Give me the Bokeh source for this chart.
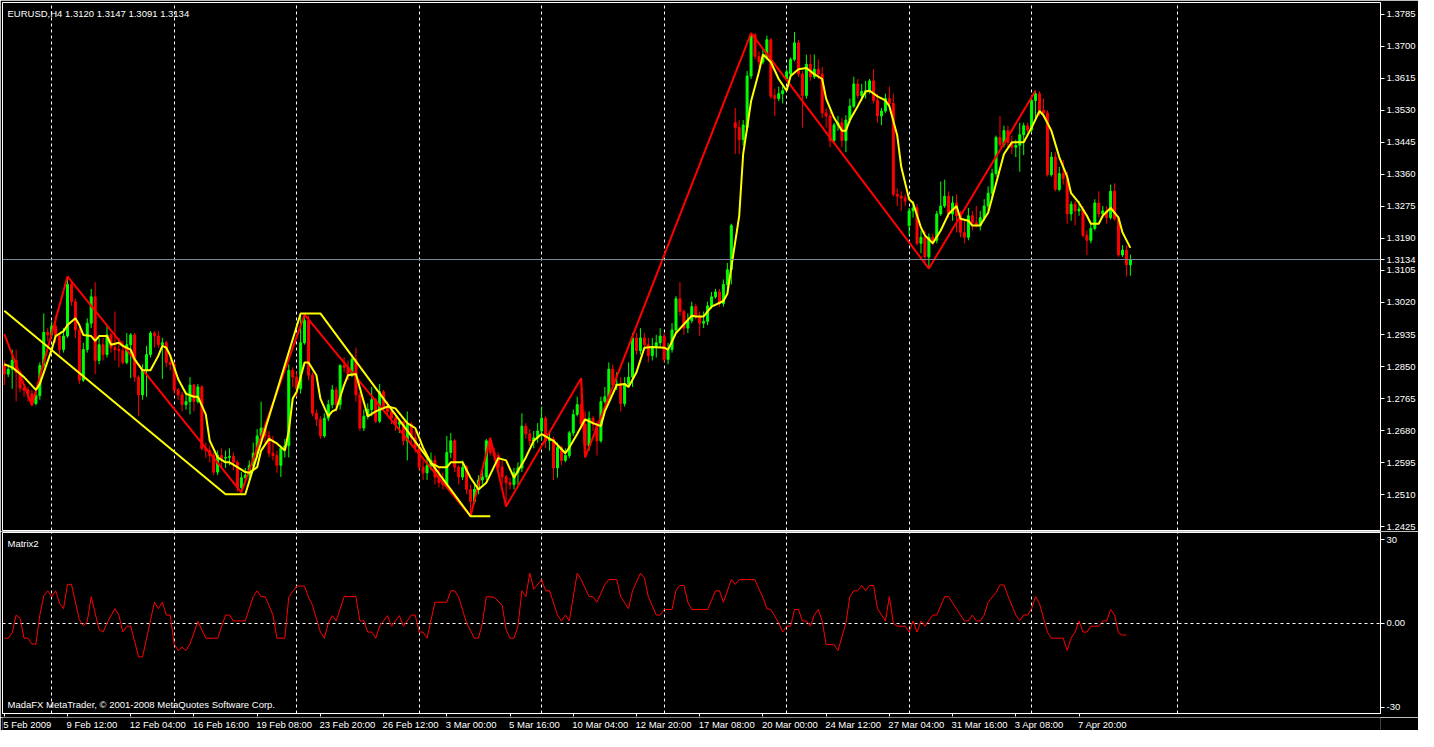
from bokeh.plotting import figure
from bokeh.layouts import column
from bokeh.models import (Range1d, FixedTicker, Label, ColumnDataSource, Span,
                          NumeralTickFormatter)
from bokeh.embed import file_html
from bokeh.resources import INLINE
from bokeh.core.properties import value

FONT = "Liberation Sans"

# ---------------- data (EURUSD H4) ----------------
opens = [
    1.2853, 1.2830, 1.2843, 1.2866, 1.2835, 1.2793, 1.2788, 1.2778, 1.2752, 1.2773,
    1.2853, 1.2941, 1.2934, 1.2957, 1.2931, 1.2895, 1.2931, 1.3068, 1.3022, 1.2947,
    1.2814, 1.2895, 1.2965, 1.3035, 1.2866, 1.2908, 1.2882, 1.2934, 1.2900, 1.2895,
    1.2892, 1.2861, 1.2908, 1.2934, 1.2822, 1.2775, 1.2840, 1.2882, 1.2939, 1.2931,
    1.2908, 1.2913, 1.2861, 1.2856, 1.2788, 1.2775, 1.2749, 1.2757, 1.2801, 1.2757,
    1.2796, 1.2633, 1.2627, 1.2614, 1.2570, 1.2614, 1.2607, 1.2609, 1.2612, 1.2596,
    1.2529, 1.2555, 1.2562, 1.2588, 1.2620, 1.2666, 1.2687, 1.2666, 1.2620, 1.2614,
    1.2588, 1.2633, 1.2640, 1.2840, 1.2822, 1.2791, 1.2913, 1.2972, 1.2827, 1.2726,
    1.2710, 1.2666, 1.2713, 1.2749, 1.2788, 1.2749, 1.2853, 1.2848, 1.2827, 1.2869,
    1.2775, 1.2687, 1.2718, 1.2736, 1.2762, 1.2705, 1.2783, 1.2744, 1.2731, 1.2713,
    1.2697, 1.2703, 1.2653, 1.2697, 1.2661, 1.2635, 1.2583, 1.2568, 1.2588, 1.2601,
    1.2557, 1.2542, 1.2537, 1.2622, 1.2653, 1.2583, 1.2557, 1.2583, 1.2524, 1.2492,
    1.2524, 1.2549, 1.2557, 1.2653, 1.2622, 1.2614, 1.2583, 1.2557, 1.2542, 1.2537,
    1.2568, 1.2581, 1.2692, 1.2671, 1.2653, 1.2661, 1.2679, 1.2713, 1.2653, 1.2658,
    1.2581, 1.2635, 1.2601, 1.2614, 1.2674, 1.2723, 1.2749, 1.2697, 1.2640, 1.2713,
    1.2697, 1.2653, 1.2757, 1.2770, 1.2843, 1.2801, 1.2804, 1.2752, 1.2804, 1.2822,
    1.2926, 1.2892, 1.2926, 1.2908, 1.2879, 1.2900, 1.2913, 1.2931, 1.2869, 1.2895,
    1.2947, 1.3030, 1.2996, 1.2952, 1.2972, 1.3009, 1.2983, 1.2965, 1.2970, 1.3011,
    1.3035, 1.3048, 1.3017, 1.3068, 1.3107, 1.3497, 1.3484, 1.3452, 1.3484, 1.3621,
    1.3730, 1.3673, 1.3658, 1.3670, 1.3717, 1.3569, 1.3561, 1.3574, 1.3613, 1.3626,
    1.3665, 1.3709, 1.3626, 1.3569, 1.3652, 1.3619, 1.3639, 1.3626, 1.3523, 1.3515,
    1.3450, 1.3491, 1.3497, 1.3450, 1.3504, 1.3541, 1.3600, 1.3569, 1.3580, 1.3582,
    1.3608, 1.3556, 1.3515, 1.3528, 1.3561, 1.3548, 1.3307, 1.3302, 1.3297, 1.3224,
    1.3263, 1.3271, 1.3177, 1.3193, 1.3141, 1.3193, 1.3185, 1.3255, 1.3276, 1.3302,
    1.3255, 1.3284, 1.3250, 1.3206, 1.3193, 1.3250, 1.3232, 1.3224, 1.3245, 1.3276,
    1.3310, 1.3362, 1.3458, 1.3439, 1.3476, 1.3445, 1.3432, 1.3437, 1.3465, 1.3489,
    1.3478, 1.3556, 1.3574, 1.3530, 1.3523, 1.3359, 1.3406, 1.3320, 1.3362, 1.3349,
    1.3255, 1.3281, 1.3263, 1.3268, 1.3198, 1.3185, 1.3216, 1.3284, 1.3255, 1.3263,
    1.3245, 1.3315, 1.3242, 1.3146, 1.3159, 1.3120,
]
highs = [
    1.2866, 1.2856, 1.2895, 1.2895, 1.2840, 1.2804, 1.2796, 1.2788, 1.2783, 1.2861,
    1.2991, 1.2952, 1.2970, 1.2985, 1.2939, 1.2952, 1.3089, 1.3074, 1.3030, 1.2952,
    1.2913, 1.2978, 1.3056, 1.3074, 1.2926, 1.2926, 1.2960, 1.2939, 1.2996, 1.2926,
    1.2918, 1.2939, 1.2939, 1.2939, 1.2827, 1.2856, 1.2905, 1.2944, 1.2944, 1.2944,
    1.2926, 1.2918, 1.2874, 1.2861, 1.2793, 1.2783, 1.2783, 1.2822, 1.2804, 1.2804,
    1.2801, 1.2648, 1.2640, 1.2622, 1.2627, 1.2633, 1.2627, 1.2633, 1.2622, 1.2601,
    1.2570, 1.2581, 1.2601, 1.2648, 1.2684, 1.2757, 1.2692, 1.2679, 1.2666, 1.2627,
    1.2640, 1.2658, 1.2856, 1.2848, 1.2835, 1.2985, 1.2988, 1.2985, 1.2835, 1.2736,
    1.2718, 1.2726, 1.2762, 1.2801, 1.2796, 1.2856, 1.2874, 1.2866, 1.2882, 1.2900,
    1.2783, 1.2736, 1.2752, 1.2796, 1.2767, 1.2804, 1.2788, 1.2757, 1.2744, 1.2718,
    1.2710, 1.2705, 1.2731, 1.2703, 1.2679, 1.2640, 1.2601, 1.2609, 1.2622, 1.2614,
    1.2581, 1.2568, 1.2666, 1.2674, 1.2658, 1.2588, 1.2601, 1.2588, 1.2537, 1.2544,
    1.2562, 1.2575, 1.2658, 1.2661, 1.2635, 1.2622, 1.2601, 1.2562, 1.2555, 1.2581,
    1.2596, 1.2726, 1.2700, 1.2684, 1.2679, 1.2700, 1.2744, 1.2718, 1.2679, 1.2664,
    1.2648, 1.2640, 1.2633, 1.2679, 1.2736, 1.2770, 1.2819, 1.2731, 1.2731, 1.2718,
    1.2705, 1.2770, 1.2796, 1.2861, 1.2856, 1.2835, 1.2822, 1.2822, 1.2861, 1.2939,
    1.2939, 1.2952, 1.2939, 1.2926, 1.2926, 1.2934, 1.2952, 1.2939, 1.2913, 1.2965,
    1.3037, 1.3074, 1.3001, 1.2991, 1.3022, 1.3017, 1.2996, 1.2996, 1.3022, 1.3048,
    1.3056, 1.3056, 1.3081, 1.3125, 1.3229, 1.3536, 1.3504, 1.3504, 1.3634, 1.3735,
    1.3735, 1.3686, 1.3691, 1.3728, 1.3722, 1.3587, 1.3593, 1.3600, 1.3639, 1.3670,
    1.3738, 1.3717, 1.3634, 1.3678, 1.3678, 1.3678, 1.3665, 1.3645, 1.3536, 1.3530,
    1.3497, 1.3515, 1.3510, 1.3517, 1.3561, 1.3619, 1.3613, 1.3600, 1.3608, 1.3613,
    1.3639, 1.3574, 1.3536, 1.3574, 1.3593, 1.3574, 1.3323, 1.3315, 1.3307, 1.3271,
    1.3289, 1.3281, 1.3211, 1.3211, 1.3203, 1.3203, 1.3263, 1.3341, 1.3346, 1.3315,
    1.3302, 1.3307, 1.3263, 1.3237, 1.3271, 1.3263, 1.3276, 1.3263, 1.3294, 1.3328,
    1.3375, 1.3463, 1.3515, 1.3489, 1.3489, 1.3463, 1.3452, 1.3497, 1.3497, 1.3497,
    1.3567, 1.3582, 1.3580, 1.3561, 1.3530, 1.3419, 1.3419, 1.3380, 1.3398, 1.3367,
    1.3289, 1.3289, 1.3289, 1.3276, 1.3211, 1.3229, 1.3294, 1.3315, 1.3276, 1.3276,
    1.3333, 1.3336, 1.3250, 1.3172, 1.3172, 1.3147,
]
lows = [
    1.2801, 1.2822, 1.2791, 1.2757, 1.2783, 1.2770, 1.2757, 1.2747, 1.2747, 1.2762,
    1.2848, 1.2918, 1.2926, 1.2913, 1.2882, 1.2887, 1.2926, 1.3011, 1.2926, 1.2804,
    1.2809, 1.2887, 1.2952, 1.2830, 1.2856, 1.2866, 1.2874, 1.2887, 1.2866, 1.2848,
    1.2856, 1.2856, 1.2819, 1.2809, 1.2718, 1.2762, 1.2770, 1.2874, 1.2900, 1.2900,
    1.2817, 1.2848, 1.2840, 1.2778, 1.2762, 1.2731, 1.2736, 1.2723, 1.2731, 1.2752,
    1.2627, 1.2607, 1.2596, 1.2562, 1.2562, 1.2581, 1.2581, 1.2588, 1.2575, 1.2518,
    1.2516, 1.2544, 1.2549, 1.2581, 1.2607, 1.2653, 1.2648, 1.2609, 1.2601, 1.2568,
    1.2557, 1.2609, 1.2609, 1.2796, 1.2770, 1.2778, 1.2908, 1.2814, 1.2718, 1.2692,
    1.2658, 1.2661, 1.2705, 1.2739, 1.2731, 1.2736, 1.2835, 1.2814, 1.2822, 1.2757,
    1.2679, 1.2679, 1.2710, 1.2718, 1.2700, 1.2700, 1.2736, 1.2718, 1.2697, 1.2679,
    1.2674, 1.2640, 1.2601, 1.2648, 1.2622, 1.2575, 1.2549, 1.2549, 1.2575, 1.2537,
    1.2529, 1.2524, 1.2531, 1.2607, 1.2570, 1.2537, 1.2549, 1.2511, 1.2453, 1.2485,
    1.2511, 1.2537, 1.2549, 1.2614, 1.2601, 1.2570, 1.2537, 1.2479, 1.2524, 1.2524,
    1.2537, 1.2570, 1.2658, 1.2640, 1.2633, 1.2648, 1.2653, 1.2633, 1.2627, 1.2549,
    1.2555, 1.2588, 1.2596, 1.2607, 1.2666, 1.2718, 1.2687, 1.2609, 1.2627, 1.2679,
    1.2614, 1.2648, 1.2752, 1.2762, 1.2796, 1.2788, 1.2731, 1.2744, 1.2796, 1.2796,
    1.2882, 1.2882, 1.2900, 1.2861, 1.2866, 1.2874, 1.2900, 1.2861, 1.2856, 1.2887,
    1.2939, 1.2985, 1.2934, 1.2939, 1.2965, 1.2975, 1.2931, 1.2952, 1.2960, 1.3004,
    1.3030, 1.3009, 1.3009, 1.3043, 1.3068, 1.3414, 1.3414, 1.3437, 1.3476, 1.3613,
    1.3665, 1.3645, 1.3652, 1.3665, 1.3561, 1.3515, 1.3554, 1.3548, 1.3608, 1.3619,
    1.3660, 1.3619, 1.3484, 1.3561, 1.3608, 1.3613, 1.3613, 1.3510, 1.3484, 1.3432,
    1.3445, 1.3476, 1.3432, 1.3419, 1.3497, 1.3536, 1.3561, 1.3554, 1.3561, 1.3574,
    1.3548, 1.3497, 1.3491, 1.3523, 1.3541, 1.3302, 1.3276, 1.3263, 1.3276, 1.3198,
    1.3245, 1.3172, 1.3151, 1.3125, 1.3110, 1.3172, 1.3177, 1.3250, 1.3271, 1.3245,
    1.3237, 1.3206, 1.3193, 1.3177, 1.3185, 1.3211, 1.3219, 1.3211, 1.3237, 1.3263,
    1.3297, 1.3354, 1.3432, 1.3432, 1.3432, 1.3414, 1.3406, 1.3367, 1.3411, 1.3471,
    1.3471, 1.3510, 1.3515, 1.3510, 1.3354, 1.3354, 1.3315, 1.3315, 1.3333, 1.3229,
    1.3237, 1.3224, 1.3250, 1.3193, 1.3146, 1.3177, 1.3211, 1.3245, 1.3245, 1.3229,
    1.3240, 1.3237, 1.3141, 1.3141, 1.3089, 1.3091,
]
closes = [
    1.2830, 1.2843, 1.2866, 1.2835, 1.2793, 1.2788, 1.2778, 1.2752, 1.2773, 1.2853,
    1.2941, 1.2934, 1.2957, 1.2931, 1.2895, 1.2931, 1.3068, 1.3022, 1.2947, 1.2814,
    1.2895, 1.2965, 1.3035, 1.2866, 1.2908, 1.2882, 1.2934, 1.2900, 1.2895, 1.2892,
    1.2861, 1.2908, 1.2934, 1.2822, 1.2775, 1.2840, 1.2882, 1.2939, 1.2931, 1.2908,
    1.2913, 1.2861, 1.2856, 1.2788, 1.2775, 1.2749, 1.2757, 1.2801, 1.2757, 1.2796,
    1.2633, 1.2627, 1.2614, 1.2570, 1.2614, 1.2607, 1.2609, 1.2612, 1.2596, 1.2529,
    1.2555, 1.2562, 1.2588, 1.2620, 1.2666, 1.2687, 1.2666, 1.2620, 1.2614, 1.2588,
    1.2633, 1.2640, 1.2840, 1.2822, 1.2791, 1.2913, 1.2972, 1.2827, 1.2726, 1.2710,
    1.2666, 1.2713, 1.2749, 1.2788, 1.2749, 1.2853, 1.2848, 1.2827, 1.2869, 1.2775,
    1.2687, 1.2718, 1.2736, 1.2762, 1.2705, 1.2783, 1.2744, 1.2731, 1.2713, 1.2697,
    1.2703, 1.2653, 1.2697, 1.2661, 1.2635, 1.2583, 1.2568, 1.2588, 1.2601, 1.2557,
    1.2542, 1.2537, 1.2622, 1.2653, 1.2583, 1.2557, 1.2583, 1.2524, 1.2492, 1.2524,
    1.2549, 1.2557, 1.2653, 1.2622, 1.2614, 1.2583, 1.2557, 1.2542, 1.2537, 1.2568,
    1.2581, 1.2692, 1.2671, 1.2653, 1.2661, 1.2679, 1.2713, 1.2653, 1.2658, 1.2581,
    1.2635, 1.2601, 1.2614, 1.2674, 1.2723, 1.2749, 1.2697, 1.2640, 1.2713, 1.2697,
    1.2653, 1.2757, 1.2770, 1.2843, 1.2801, 1.2804, 1.2752, 1.2804, 1.2822, 1.2926,
    1.2892, 1.2926, 1.2908, 1.2879, 1.2900, 1.2913, 1.2931, 1.2869, 1.2895, 1.2947,
    1.3030, 1.2996, 1.2952, 1.2972, 1.3009, 1.2983, 1.2965, 1.2970, 1.3011, 1.3035,
    1.3048, 1.3017, 1.3068, 1.3107, 1.3224, 1.3484, 1.3452, 1.3491, 1.3621, 1.3730,
    1.3673, 1.3658, 1.3670, 1.3717, 1.3567, 1.3561, 1.3574, 1.3582, 1.3632, 1.3665,
    1.3709, 1.3626, 1.3569, 1.3652, 1.3619, 1.3639, 1.3626, 1.3523, 1.3515, 1.3450,
    1.3491, 1.3497, 1.3450, 1.3504, 1.3541, 1.3600, 1.3569, 1.3580, 1.3582, 1.3608,
    1.3556, 1.3515, 1.3528, 1.3561, 1.3548, 1.3307, 1.3302, 1.3297, 1.3289, 1.3263,
    1.3271, 1.3177, 1.3193, 1.3141, 1.3193, 1.3185, 1.3255, 1.3276, 1.3302, 1.3255,
    1.3284, 1.3250, 1.3206, 1.3193, 1.3250, 1.3232, 1.3224, 1.3245, 1.3276, 1.3310,
    1.3362, 1.3458, 1.3439, 1.3476, 1.3445, 1.3432, 1.3437, 1.3465, 1.3489, 1.3478,
    1.3556, 1.3574, 1.3530, 1.3523, 1.3359, 1.3406, 1.3320, 1.3362, 1.3349, 1.3255,
    1.3281, 1.3263, 1.3268, 1.3198, 1.3185, 1.3216, 1.3284, 1.3255, 1.3263, 1.3245,
    1.3315, 1.3242, 1.3146, 1.3159, 1.3120, 1.3134,
]

# smoothed moving average (yellow) read as (bar, price)
ma_points = [
    (0, 1.2856), (2, 1.2848), (5, 1.2822), (8, 1.2788), (9, 1.2804), (12, 1.2895),
    (13, 1.2931), (15, 1.2944), (16, 1.2960), (18, 1.2978), (19, 1.2960), (20, 1.2934),
    (22, 1.2931), (23, 1.2918), (24, 1.2931), (26, 1.2931), (27, 1.2908), (29, 1.2913),
    (30, 1.2905), (32, 1.2895), (33, 1.2869), (35, 1.2840), (37, 1.2840), (39, 1.2879),
    (40, 1.2905), (41, 1.2900), (42, 1.2879), (44, 1.2817), (46, 1.2778), (48, 1.2770),
    (49, 1.2770), (51, 1.2723), (52, 1.2653), (54, 1.2609), (56, 1.2596), (57, 1.2596),
    (59, 1.2583), (61, 1.2570), (62, 1.2568), (64, 1.2583), (65, 1.2627), (67, 1.2658),
    (69, 1.2646), (71, 1.2627), (72, 1.2679), (73, 1.2765), (74, 1.2783), (76, 1.2861),
    (77, 1.2861), (79, 1.2827), (80, 1.2765), (82, 1.2718), (83, 1.2731), (84, 1.2736),
    (86, 1.2801), (87, 1.2827), (89, 1.2830), (92, 1.2718), (94, 1.2731), (97, 1.2744),
    (99, 1.2739), (102, 1.2700), (104, 1.2687), (106, 1.2635), (108, 1.2594), (110, 1.2583),
    (112, 1.2583), (113, 1.2596), (116, 1.2596), (118, 1.2555), (120, 1.2524), (122, 1.2542),
    (125, 1.2607), (127, 1.2601), (129, 1.2555), (132, 1.2609), (134, 1.2653), (136, 1.2671),
    (139, 1.2653), (142, 1.2620), (143, 1.2635), (145, 1.2671), (147, 1.2710), (149, 1.2700),
    (151, 1.2692), (152, 1.2731), (155, 1.2801), (157, 1.2804), (158, 1.2796), (160, 1.2835),
    (162, 1.2900), (164, 1.2902), (167, 1.2900), (168, 1.2895), (170, 1.2939), (174, 1.2985),
    (175, 1.2983), (177, 1.2983), (179, 1.3009), (182, 1.3024), (183, 1.3043), (184, 1.3113),
    (186, 1.3250), (187, 1.3414), (189, 1.3554), (191, 1.3632), (192, 1.3678), (194, 1.3658),
    (196, 1.3613), (198, 1.3582), (199, 1.3621), (201, 1.3639), (203, 1.3642), (205, 1.3626),
    (207, 1.3613), (208, 1.3561), (210, 1.3510), (212, 1.3476), (213, 1.3476), (214, 1.3504),
    (216, 1.3541), (218, 1.3580), (219, 1.3582), (221, 1.3567), (223, 1.3556), (224, 1.3541),
    (226, 1.3463), (227, 1.3380), (229, 1.3294), (230, 1.3284), (232, 1.3219), (233, 1.3198),
    (235, 1.3177), (237, 1.3211), (239, 1.3255), (241, 1.3276), (242, 1.3242), (244, 1.3237),
    (245, 1.3224), (247, 1.3224), (248, 1.3242), (249, 1.3258), (251, 1.3336), (253, 1.3414),
    (255, 1.3445), (258, 1.3445), (260, 1.3484), (262, 1.3528), (263, 1.3517), (265, 1.3476),
    (267, 1.3406), (269, 1.3354), (270, 1.3310), (272, 1.3284), (274, 1.3250), (275, 1.3229),
    (277, 1.3229), (278, 1.3250), (280, 1.3271), (282, 1.3245), (283, 1.3206), (285, 1.3165),
]

# ZigZag pivots (red) and channel zigzag (yellow), as (bar, price)
zigzag_red = [(0, 1.2936), (7, 1.2747), (16, 1.3089), (60, 1.2516), (76, 1.2988),
              (118, 1.2453), (123, 1.2661), (127, 1.2479), (146, 1.2819), (147, 1.2609),
              (189, 1.3735), (234, 1.3110), (261, 1.3582)]
zigzag_yellow = [(0, 1.2998), (56, 1.2511), (61, 1.2511), (75, 1.2991), (80, 1.2991),
                 (118, 1.2453), (123, 1.2453)]

# Matrix2 oscillator, as (bar, value)
matrix2 = [
    (0, -5.3), (1, -5.3), (2, -3.4), (3, 3.0), (4, 1.8), (5, -5.3), (6, -5.3), (7, -7.4),
    (8, -7.4), (9, 3.0), (10, 9.9), (11, 11.7), (12, 9.6), (13, 11.7), (14, 7.1), (15, 5.3),
    (16, 14.0), (17, 14.0), (19, 1.3), (20, -0.8), (21, 0.7), (22, 9.6), (24, -2.2), (25, -3.1),
    (26, 0.1), (28, 5.3), (29, 3.0), (30, -3.1), (31, -1.0), (32, -1.0), (34, -12.0), (35, -12.0),
    (38, 7.6), (39, 5.3), (40, 7.6), (41, 3.0), (42, 3.0), (43, -7.4), (44, -9.7), (45, -8.5),
    (46, -9.7), (47, -7.4), (49, 0.7), (51, -5.3), (54, -5.3), (56, 3.0), (57, 3.0), (58, 0.9),
    (61, 0.9), (63, 9.6), (64, 11.7), (65, 9.6), (66, 9.6), (67, 6.5), (68, 3.0), (69, -5.3),
    (71, -5.3), (72, 9.4), (74, 13.4), (76, 13.4), (77, 9.4), (78, 6.5), (80, -3.1), (81, -5.3),
    (82, 0.1), (83, 2.8), (84, 0.9), (86, 9.6), (89, 9.6), (90, 0.9), (91, 0.9), (92, -3.1),
    (93, -3.1), (94, -5.3), (95, -1.0), (97, 2.8), (98, -1.0), (100, 2.8), (101, -1.0), (103, 3.0),
    (104, 3.0), (105, -3.1), (106, -3.1), (107, -5.3), (109, 7.6), (112, 7.6), (113, 11.7),
    (114, 11.7), (115, 9.4), (117, 0.1), (119, -5.3), (120, -5.3), (121, 0.1), (122, 9.6),
    (124, 9.4), (126, 6.5), (127, -2.2), (128, -5.3), (129, -5.3), (130, -1.0), (131, 11.7),
    (132, 9.6), (133, 18.0), (134, 12.3), (136, 15.7), (137, 11.7), (138, 11.7), (140, 3.0),
    (141, 0.9), (142, 3.0), (143, 0.9), (145, 18.0), (146, 15.7), (148, 9.6), (149, 9.6),
    (150, 7.6), (152, 14.0), (153, 15.7), (155, 15.7), (156, 9.6), (158, 5.3), (159, 11.7),
    (161, 18.0), (162, 16.3), (163, 9.6), (165, 3.0), (166, 3.0), (167, 5.0), (169, 5.0),
    (170, 11.9), (171, 13.6), (172, 13.6), (173, 7.6), (174, 5.0), (178, 5.0), (180, 11.7),
    (181, 11.7), (182, 7.6), (184, 15.7), (185, 14.0), (186, 15.7), (190, 15.7), (191, 12.3),
    (192, 9.4), (193, 5.3), (194, 5.0), (196, 0.1), (197, -3.1), (198, -1.0), (199, -1.0),
    (200, 5.0), (201, 5.0), (202, 0.9), (203, 0.9), (204, -1.0), (205, 3.0), (206, 5.0),
    (207, 0.9), (208, -7.6), (210, -7.6), (211, -9.7), (213, 0.1), (214, 9.6), (215, 11.7),
    (216, 11.7), (217, 13.6), (218, 11.7), (219, 13.6), (220, 13.6), (221, 5.3), (223, 0.9),
    (224, 9.6), (225, 0.1), (226, -1.0), (228, -1.0), (229, -3.1), (230, 0.9), (231, -3.1),
    (232, 0.9), (233, -1.0), (235, 3.0), (236, 3.0), (238, 9.6), (239, 9.6), (240, 7.3),
    (243, 0.9), (244, 0.9), (245, 3.0), (246, 0.9), (247, 0.9), (248, 3.0), (249, 7.6),
    (251, 11.1), (252, 13.8), (253, 13.8), (254, 9.9), (256, 3.0), (257, 1.0), (258, 3.0),
    (259, 3.0), (260, 5.3), (261, 9.6), (262, 7.1), (264, -3.1), (265, -5.3), (268, -5.3),
    (269, -9.7), (270, -5.3), (271, -3.1), (272, 0.9), (273, -3.1), (274, -3.1), (275, -1.0),
    (277, -1.0), (278, 0.9), (279, 0.9), (280, 5.0), (281, 3.0), (282, -3.4), (283, -4.2),
    (284, -4.2),
]

price_ticks = [1.2425, 1.2510, 1.2595, 1.2680, 1.2765, 1.2850, 1.2935, 1.3020, 1.3105,
               1.3190, 1.3275, 1.3360, 1.3445, 1.3530, 1.3615, 1.3700, 1.3785]
time_tick_bars = [0, 16, 32, 48, 64, 80, 96, 112, 128, 144, 160, 176, 192, 208, 224, 240, 256, 272]
time_tick_labels = ["5 Feb 2009", "9 Feb 12:00", "12 Feb 04:00", "16 Feb 16:00", "19 Feb 08:00",
                    "23 Feb 20:00", "26 Feb 12:00", "3 Mar 00:00", "5 Mar 16:00", "10 Mar 04:00",
                    "12 Mar 20:00", "17 Mar 08:00", "20 Mar 00:00", "24 Mar 12:00", "27 Mar 04:00",
                    "31 Mar 16:00", "3 Apr 08:00", "7 Apr 20:00"]
week_grid_bars = [12, 43, 74, 105, 136, 167, 198, 229, 260, 297]
last_price = 1.3134
header = "EURUSD,H4  1.3120 1.3147 1.3091 1.3134"

# ---------------- figure ----------------
n = min(len(opens), len(highs), len(lows), len(closes))
bars = list(range(n))
colors = ["#00ff00" if closes[i] >= opens[i] else "#ff0000" for i in bars]
src = ColumnDataSource(dict(
    x=bars, h=highs[:n], l=lows[:n],
    top=[max(opens[i], closes[i]) for i in bars],
    bottom=[min(opens[i], closes[i]) for i in bars],
    color=colors))

FW = 1378
H1, H2, H3 = 528, 181, 13
xr = Range1d(-0.45, 348.3)


def base_style(p):
    p.background_fill_color = "black"
    p.border_fill_color = "black"


def style_common(p):
    base_style(p)
    p.outline_line_color = "white"
    p.xgrid.ticker = FixedTicker(ticks=week_grid_bars)
    p.xgrid.grid_line_color = "white"
    p.xgrid.grid_line_dash = "3 3"
    for ax in p.yaxis:
        ax.axis_line_color = "white"
        ax.major_tick_line_color = "white"
        ax.major_tick_in = 0
        ax.major_tick_out = 4
        ax.minor_tick_line_color = None
        ax.major_label_text_color = "white"
        ax.major_label_text_font = FONT
        ax.major_label_text_font_size = "9.5px"
        ax.major_label_standoff = 2


# ---- main price pane ----
p1 = figure(frame_width=FW, frame_height=H1, x_range=xr, y_range=Range1d(1.2415, 1.3816),
            output_backend="svg", toolbar_location=None, x_axis_location=None,
            y_axis_location="right", min_border_left=2, min_border_right=38,
            min_border_top=2, min_border_bottom=1)
style_common(p1)
p1.ygrid.visible = False
p1.yaxis.ticker = FixedTicker(ticks=price_ticks + [last_price])
p1.yaxis.formatter = NumeralTickFormatter(format="0.0000")

p1.segment(x0="x", y0="h", x1="x", y1="l", line_color="color", line_width=1, source=src)
p1.vbar(x="x", top="top", bottom="bottom", width=0.5, fill_color="color",
        line_color="color", line_width=1, source=src)
p1.line([b for b, _ in zigzag_red], [v for _, v in zigzag_red], line_color="#ff0000", line_width=2)
p1.line([b for b, _ in zigzag_yellow], [v for _, v in zigzag_yellow], line_color="#ffff00", line_width=2)
p1.line([b for b, _ in ma_points], [v for _, v in ma_points], line_color="#ffff00", line_width=2)
p1.add_layout(Span(location=last_price, dimension="width", line_color="#7b8a9a", line_width=1))

p1.add_layout(Label(x=5, y=H1 - 5, x_units="screen", y_units="screen", text=header,
                    text_baseline="top", text_color="white", text_font=FONT,
                    text_font_size="9.5px"))

# ---- Matrix2 pane ----
p2 = figure(frame_width=FW, frame_height=H2, x_range=xr, y_range=Range1d(-32.3, 32.6),
            output_backend="svg", toolbar_location=None, x_axis_location="below",
            y_axis_location="right", min_border_left=2, min_border_right=38,
            min_border_top=1, min_border_bottom=4)
style_common(p2)
p2.ygrid.ticker = FixedTicker(ticks=[0])
p2.ygrid.grid_line_color = "white"
p2.ygrid.grid_line_dash = "3 3"
p2.yaxis.ticker = FixedTicker(ticks=[-30, 0, 30])
p2.yaxis.major_label_overrides = {-30: "-30", 0: "0.00", 30: "30"}
xa = p2.xaxis[0]
xa.ticker = FixedTicker(ticks=time_tick_bars)
xa.axis_line_color = "white"
xa.major_tick_line_color = "white"
xa.major_tick_in = 0
xa.major_tick_out = 3
xa.minor_tick_line_color = None
xa.major_label_overrides = {b: "" for b in time_tick_bars}
xa.major_label_text_font_size = "1px"
xa.major_label_standoff = 0

p2.line([b for b, _ in matrix2], [v for _, v in matrix2], line_color="#ff0000", line_width=1)

p2.add_layout(Label(x=5, y=H2 - 5, x_units="screen", y_units="screen", text="Matrix2",
                    text_baseline="top", text_color="white", text_font=FONT,
                    text_font_size="9.5px"))
p2.add_layout(Label(x=5, y=4, x_units="screen", y_units="screen",
                    text="MadaFX MetaTrader, \u00a9 2001-2008 MetaQuotes Software Corp.",
                    text_baseline="bottom", text_color="white", text_font=FONT,
                    text_font_size="9.5px"))

# ---- time label strip (labels start at their tick, as in MetaTrader) ----
p3 = figure(frame_width=FW, frame_height=H3, x_range=xr, y_range=Range1d(0, 1),
            output_backend="svg", toolbar_location=None, x_axis_location=None,
            y_axis_location=None, min_border_left=2, min_border_right=38,
            min_border_top=0, min_border_bottom=0)
base_style(p3)
p3.outline_line_color = None
p3.xgrid.visible = False
p3.ygrid.visible = False
p3.text(x=time_tick_bars, y=[0.5] * len(time_tick_bars), text=time_tick_labels,
        text_align="left", text_baseline="middle", x_offset=-1,
        text_color="white", text_font=value(FONT), text_font_size="9.5px")

layout = column(p1, p2, p3, spacing=0)
open("out.html", "w").write(file_html(layout, INLINE))
